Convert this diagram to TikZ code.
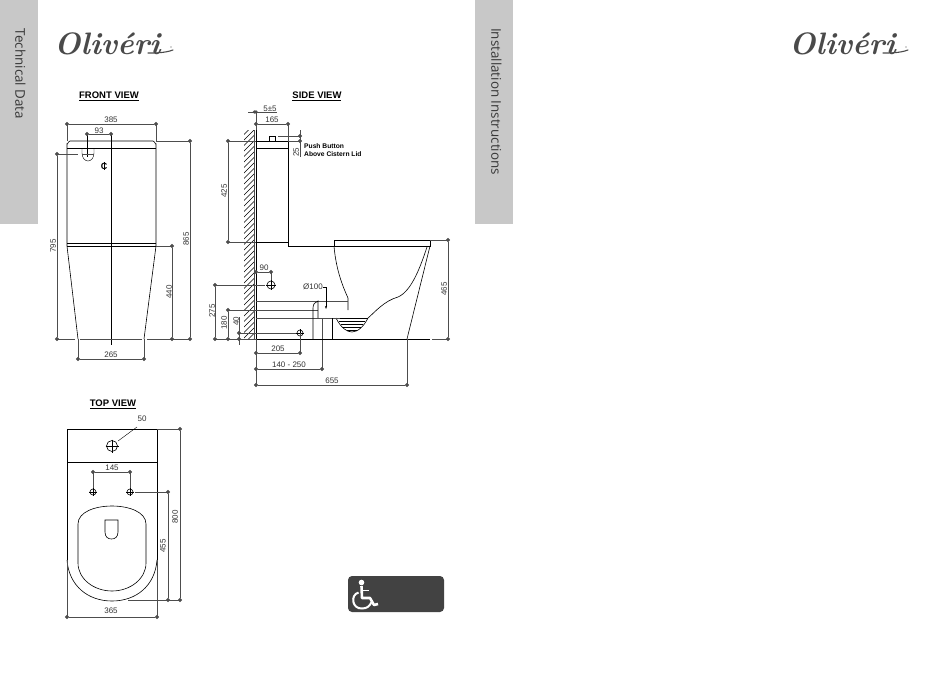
\documentclass[tikz,border=0pt]{standalone}
\usepackage{fontspec}
\usepackage{xcolor}
\usetikzlibrary{arrows.meta}
\newfontfamily\dimfont{Liberation Sans}
\newfontfamily\tabfont{Open Sans}
\definecolor{tabfill}{HTML}{C8C8C8}
\definecolor{tabtxt}{HTML}{383838}
\definecolor{logoink}{HTML}{4A4A4A}
\definecolor{dimline}{HTML}{4D4D4D}
\definecolor{badgefill}{HTML}{424242}
\newcommand{\crossmark}[3]{\draw[part] (#1,#2) circle (#3pt);
  \draw[thinpart] (#1-#3-1,#2) -- (#1+#3+1,#2) (#1,#2-#3-1) -- (#1,#2+#3+1);}

\begin{document}
\begin{tikzpicture}[
  x=1pt, y=-1pt,
  part/.style={draw=black, line width=0.6pt},
  thinpart/.style={draw=black, line width=0.4pt},
  ext/.style={draw=dimline, line width=0.55pt},
  dim/.style={draw=dimline, line width=0.6pt, {Circle[length=3.8pt]}-{Circle[length=3.8pt]}, shorten <=-1.9pt, shorten >=-1.9pt},
  dimlabel/.style={font=\dimfont\fontsize{8}{9}\selectfont, inner sep=0pt, text=black!80},
  title/.style={font=\dimfont\bfseries\fontsize{9.5}{11}\selectfont, inner sep=0pt},
  note/.style={font=\dimfont\bfseries\fontsize{6.7}{8}\selectfont, inner sep=0pt, anchor=west},
  tab/.style={fill=tabfill, draw=none},
  tablabel/.style={font=\tabfont\fontsize{13.4}{15}\selectfont, text=tabtxt, rotate=-90, inner sep=0pt}
]
  \useasboundingbox (0,0) rectangle (950,672);

  % Side tabs
  \fill[tab] (0,0) rectangle (38,224);
  \fill[tab] (475,0) rectangle (513,224);
  \node[tablabel] (tabtech) at (20.5,74) {Technical Data};
  \node[tablabel] (tabinst) at (496.5,101.5) {Installation Instructions};

  % Logos
  \foreach \lx/\lname in {0/logoa,735/logob} {
    \node[font=\bfseries\itshape\fontsize{31}{33}\selectfont, text=logoink, inner sep=0pt, anchor=base west]
      (\lname) at (54+\lx,54) {Olivéri};
    \draw[logoink, line width=1.1pt, line cap=round] (148+\lx,53) .. controls (155+\lx,53) and (165+\lx,53) .. (173+\lx,50);
    \fill[logoink] (171+\lx,47) circle (0.7pt);
  }

  % Front view
  \node[title] (fronttitle) at (109,95) {FRONT VIEW};
  \draw[part] (79,100) -- (139,100);
  \draw[part] (67,246) -- (67,144) to[out=-90,in=180] (70,141) -- (153,141) to[out=0,in=-90] (156,144) -- (156,246);
  \draw[part] (67,148) -- (156,148);
  \draw[part] (67,243.5) -- (156,243.5) (67,246) -- (156,246);
  \draw[part] (67,246) -- (78,339) (156,246) -- (144,339);
  \draw[thinpart] (82,148) -- (82,153) .. controls (82,158) and (85,161) .. (88,161) .. controls (91,161) and (94,158) .. (94,153) -- (94,148);
  \draw[thinpart] (87,134) -- (87,157);
  \draw[thinpart] (111,134) -- (111,345);
  \node[font=\dimfont\bfseries\fontsize{9}{10}\selectfont, inner sep=0pt] (frontcl) at (104,166) {C};
  \draw[thinpart] (104,162) -- (104,170);
  \draw[ext] (57,339) -- (75,339) (80,339) -- (142,339) (147,339) -- (190,339);
  \draw[dim] (67,124) -- (156,124);
  \draw[ext] (67,124) -- (67,141) (156,124) -- (156,141);
  \node[dimlabel] (fw385) at (111,120) {385};
  \draw[dim] (87,134) -- (111,134);
  \node[dimlabel] (fw93) at (99,130.5) {93};
  \draw[dim] (57,154) -- (57,339);
  \draw[ext] (57,154) -- (78,154) (82,154) -- (94,154);
  \node[dimlabel, rotate=90] (fw795) at (53,246) {795};
  \draw[dim] (190,141) -- (190,339);
  \draw[ext] (156,141) -- (190,141);
  \node[dimlabel, rotate=90] (fw865) at (186,239) {865};
  \draw[dim] (172,246) -- (172,339);
  \draw[ext] (156,246) -- (172,246);
  \node[dimlabel, rotate=90] (fw440) at (169,292) {440};
  \draw[dim] (78,359) -- (144,359);
  \draw[ext] (78,339) -- (78,359) (144,339) -- (144,359);
  \node[dimlabel] (fw265) at (111,355) {265};

  % Side view
  \node[title] (sidetitle) at (317,95) {SIDE VIEW};
  \draw[part] (292,100) -- (341,100);
  \begin{scope}
    \clip (244,130) rectangle (254.5,339);
    \foreach \hy in {130,135.5,...,352}
      \draw[line width=0.4pt] (243,\hy) -- (255,\hy-12);
  \end{scope}
  \draw[ext] (254.5,130) -- (254.5,339);
  \draw[part] (256,130) -- (256,339);
  \draw[part] (256,141) -- (288,141) -- (288,246) -- (334,246);
  \draw[part] (256,148) -- (288,148) (256,242) -- (288,242);
  \draw[part] (269,141) rectangle (275,136);
  \draw[part] (334,240) rectangle (430,246);
  \draw[part] (334,246) .. controls (336,270) and (343,287) .. (348,298) -- (348,310);
  \draw[part] (430,246) -- (407,339);
  \draw[part] (427,247) .. controls (421,265) and (412,291) .. (398,297) .. controls (384,301) and (375,312) .. (368,318);
  \draw[part] (336,318) -- (368,318);
  \draw[part] (336,318) .. controls (341,328) and (347,332) .. (352,332) .. controls (358,332) and (364,326) .. (368,318);
  \foreach \wy/\wx in {321/13,324/11,327/9,330/5}
    \draw[thinpart] (352-\wx,\wy) -- (352+\wx,\wy);
  \draw[ext] (256,301) -- (348,301) (256,318) -- (340,318);
  \draw[ext] (228,310) -- (318,310);
  \draw[part] (313,339) -- (313,308) .. controls (313,304) and (315,302) .. (318,301) -- (318,318);
  \draw[part] (332,318) -- (332,339);
  \draw[ext] (322,318) -- (322,369);
  \draw[part] (256,339) -- (430,339);
  \draw[ext] (215,339) -- (256,339) (432,339) -- (448,339);
  \draw[ext] (248,112) -- (277,112);
  \fill[dimline] (254.3,112) circle (1.8pt) (256,112) circle (1.8pt);
  \node[dimlabel] (sw55) at (270,108.5) {5±5};
  \draw[dim] (256,124) -- (288,124);
  \draw[ext] (256,112) -- (256,130) (288,124) -- (288,141);
  \node[dimlabel] (sw165) at (272,120) {165};
  \draw[ext] (278,136) -- (300,136) (288,141) -- (300,141);
  \draw[dim] (300,136) -- (300,141);
  \draw[ext] (300,130) -- (300,157);
  \node[dimlabel, rotate=90] (sw25) at (296,152) {25};
  \node[note] (swnotea) at (304,146) {Push Button};
  \node[note] (swnoteb) at (304,154) {Above Cistern Lid};
  \draw[dim] (228,141) -- (228,242);
  \draw[ext] (228,141) -- (256,141) (228,242) -- (256,242);
  \node[dimlabel, rotate=90] (sw425) at (224,191) {425};
  \draw[dim] (448,240) -- (448,339);
  \draw[ext] (430,240) -- (448,240);
  \node[dimlabel, rotate=90] (sw465) at (444,289) {465};
  \draw[dim] (256,272) -- (271,272);
  \draw[ext] (271,272) -- (271,285);
  \node[dimlabel] (sw90) at (264,268) {90};
  \crossmark{271}{285}{4}
  \draw[ext] (215,285) -- (265,285);
  \draw[dim] (215,285) -- (215,339);
  \node[dimlabel, rotate=90] (sw275) at (212,311) {275};
  \draw[dim] (228,310) -- (228,339);
  \node[dimlabel, rotate=90] (sw180) at (224,323) {180};
  \draw[dim] (239,333) -- (239,339);
  \draw[ext] (239,317) -- (239,345) (239,333) -- (296,333);
  \node[dimlabel, rotate=90] (sw40) at (236,321) {40};
  \crossmark{300}{333}{3}
  \node[dimlabel] (sw100) at (313,287) {Ø100};
  \draw[thinpart, -{Stealth[length=3pt,width=2pt]}] (sw100.east) -- (326,287) -- (326,309);
  \draw[dim] (256,353) -- (300,353);
  \draw[ext] (300,333) -- (300,353);
  \node[dimlabel] (sw205) at (278,349) {205};
  \draw[dim] (256,369) -- (322,369);
  \node[dimlabel] (sw140) at (289,364.5) {140 - 250};
  \draw[dim] (256,385) -- (407,385);
  \draw[ext] (256,339) -- (256,385) (407,339) -- (407,385);
  \node[dimlabel] (sw655) at (332,380.5) {655};

  % Top view
  \node[title] (toptitle) at (113,403) {TOP VIEW};
  \draw[part] (90,408) -- (136,408);
  \draw[part] (67,560) -- (67,429) -- (157,429) -- (157,560);
  \draw[part] (67,462) -- (157,462);
  \draw[part] (67,560) .. controls (69,586) and (88,601) .. (112,601) .. controls (136,601) and (155,586) .. (157,560);
  \draw[ext] (67,560) -- (67,617) (157,560) -- (157,617);
  \draw[part] (78,563) -- (78,524) .. controls (78,512) and (95,506) .. (112,506) .. controls (129,506) and (146,512) .. (146,524) -- (146,563) .. controls (146,579) and (130,591) .. (112,591) .. controls (94,591) and (78,579) .. (78,563);
  \draw[part] (105,520) -- (118,520) -- (118,532) .. controls (118,537) and (115,539) .. (111.5,539) .. controls (108,539) and (105,537) .. (105,532) -- cycle;
  \crossmark{112}{446}{5.5}
  \draw[thinpart] (118,441) -- (137,427);
  \node[dimlabel] (tv50) at (142,419) {50};
  \draw[dim] (93,472) -- (130,472);
  \draw[ext] (93,472) -- (93,488) (130,472) -- (130,488);
  \node[dimlabel] (tv145) at (112,468) {145};
  \crossmark{93}{492}{3}
  \crossmark{130}{492}{3}
  \draw[dim] (168,492) -- (168,600);
  \draw[ext] (135,492) -- (168,492) (128,600) -- (180,600);
  \node[dimlabel, rotate=90] (tv455) at (163,546) {455};
  \draw[dim] (180,429) -- (180,600);
  \draw[ext] (157,429) -- (180,429);
  \node[dimlabel, rotate=90] (tv800) at (175,517) {800};
  \draw[dim] (67,617) -- (157,617);
  \node[dimlabel] (tv365) at (111,611) {365};

  % Access badge
  \fill[badgefill, rounded corners=4pt] (348,576) rectangle (444,612);
  \fill[white] (361.5,582.5) circle (2.8pt);
  \draw[white, line width=2.6pt, line join=round] (361.5,586) -- (362,598) -- (370,598) -- (374,605) -- (378,604);
  \draw[white, line width=1.8pt] (362,590.5) -- (369,590.5);
  \draw[white, line width=2pt] (358.5,592.5) .. controls (350,595) and (352,609) .. (362,608.5) .. controls (367,608.5) and (370,606) .. (371.5,602);
\end{tikzpicture}
\end{document}
